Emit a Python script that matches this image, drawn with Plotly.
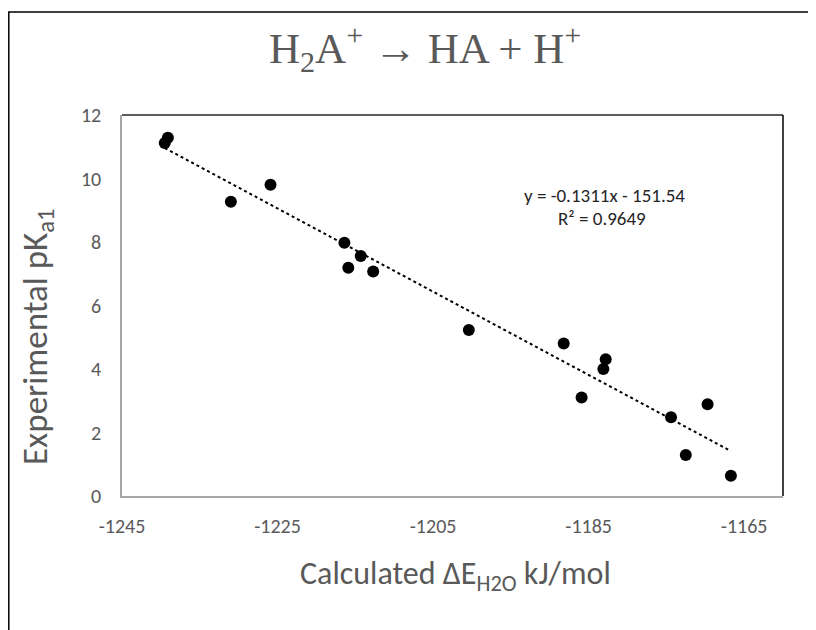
import plotly.graph_objects as go

# Data
delta_e = [-1239.1, -1239.5, -1231.0, -1225.9, -1216.4, -1214.3, -1215.9, -1212.7,
           -1200.4, -1188.2, -1182.8, -1183.1, -1185.9, -1174.4, -1169.7, -1172.5, -1166.7]
pka1 = [11.28, 11.12, 9.27, 9.80, 7.98, 7.56, 7.19, 7.07,
        5.23, 4.80, 4.31, 4.00, 3.10, 2.48, 2.89, 1.29, 0.64]

trend_slope = -0.1311
trend_intercept = -151.54
r_squared = 0.9649

x_ticks = [-1245, -1225, -1205, -1185, -1165]
y_ticks = [0, 2, 4, 6, 8, 10, 12]

OFF = 8  # browser body margin
W, H = 816 - OFF, 630 - OFF
# plot area in screenshot pixels: x 122..783, y 115..496
L, T = 122 - OFF, 115 - OFF
R, B = W - (783 - OFF), H - (496 - OFF)
pw, ph = W - L - R, H - T - B


def px(x):
    return (x - OFF - L) / pw


def py(y):
    return (H - B - (y - OFF)) / ph


x_min, x_max = min(delta_e), max(delta_e)
trend_x = [x_min, x_max]
trend_y = [trend_slope * v + trend_intercept for v in trend_x]

fig = go.Figure()
fig.add_trace(go.Scatter(x=trend_x, y=trend_y, mode="lines",
                         line=dict(color="black", width=2, dash="dot"),
                         showlegend=False, hoverinfo="skip"))
fig.add_trace(go.Scatter(x=delta_e, y=pka1, mode="markers",
                         marker=dict(color="black", size=12),
                         showlegend=False))

sans = "Carlito, Lato, sans-serif"
tick_font = dict(family=sans, size=20, color="#595959")

fig.update_layout(
    width=W, height=H,
    margin=dict(l=L, r=R, t=T, b=B, pad=0),
    paper_bgcolor="white", plot_bgcolor="white",
    xaxis=dict(range=[-1245, -1160], tickvals=x_ticks, ticktext=[str(v) for v in x_ticks],
               showgrid=False, zeroline=False, showline=True, linecolor="#A6A6A6",
               linewidth=1.5, ticks="", tickfont=tick_font, ticklabelstandoff=11),
    yaxis=dict(range=[0, 12], tickvals=y_ticks, ticktext=[str(v) for v in y_ticks],
               showgrid=False, zeroline=False, showline=True, linecolor="#A6A6A6",
               linewidth=1.5, ticks="", tickfont=tick_font, ticklabelstandoff=15),
    shapes=[
        # plot-area top and right border
        dict(type="line", xref="paper", yref="paper", x0=0, y0=1, x1=1, y1=1,
             line=dict(color="#262626", width=1.5)),
        dict(type="line", xref="paper", yref="paper", x0=1, y0=0, x1=1, y1=1,
             line=dict(color="#000000", width=1.5)),
        # outer chart border (left and top visible)
        dict(type="rect", xref="paper", yref="paper", x0=px(8.8), y0=py(800), x1=px(1000), y1=py(12),
             line=dict(color="black", width=1.5), fillcolor="rgba(0,0,0,0)"),
    ],
    annotations=[
        dict(text="H<sub>2</sub>A<sup>+</sup> \u2192 HA + H<sup>+</sup>", xref="paper", yref="paper",
             x=px(425), y=py(48), showarrow=False, xanchor="center", yanchor="middle",
             font=dict(family="Liberation Serif, serif", size=43, color="#595959")),
        dict(text="Calculated \u0394E<sub>H2O</sub> kJ/mol", xref="paper", yref="paper",
             x=px(455), y=py(575), showarrow=False, xanchor="center", yanchor="middle",
             font=dict(family=sans, size=32, color="#595959")),
        dict(text="Experimental pK<sub>a1</sub>", xref="paper", yref="paper", textangle=-90,
             x=px(37), y=py(337), showarrow=False, xanchor="center", yanchor="middle",
             font=dict(family=sans, size=35, color="#595959")),
        dict(text=f"y = {trend_slope}x - {abs(trend_intercept)}", xref="paper", yref="paper",
             x=px(604), y=py(195), showarrow=False, xanchor="center", yanchor="middle",
             font=dict(family=sans, size=19, color="#262626")),
        dict(text=f"R\u00b2 = {r_squared}", xref="paper", yref="paper",
             x=px(602), y=py(218), showarrow=False, xanchor="center", yanchor="middle",
             font=dict(family=sans, size=19, color="#262626")),
    ],
)

fig.write_html("out.html")
